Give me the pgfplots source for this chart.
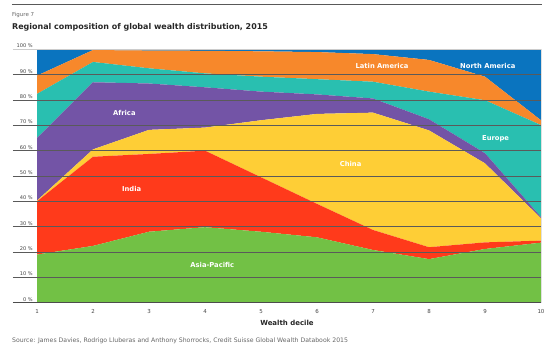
\documentclass[border=0pt]{standalone}
\usepackage{pgfplots}
\pgfplotsset{compat=1.18}
\usepackage{fontspec}
\setmainfont{DejaVu Sans}
\definecolor{cNA}{RGB}{10,116,191}
\definecolor{cLA}{RGB}{247,136,43}
\definecolor{cEU}{RGB}{41,191,176}
\definecolor{cAF}{RGB}{115,84,166}
\definecolor{cCN}{RGB}{254,206,54}
\definecolor{cIN}{RGB}{255,58,27}
\definecolor{cAP}{RGB}{114,193,69}
\definecolor{txt}{RGB}{70,70,70}
\definecolor{gridc}{RGB}{90,90,90}
\pgfplotsset{base/.style={
  at={(0,0)}, anchor=south west,
  scale only axis, width=504bp, height=253.4bp,
  xmin=1, xmax=10, ymin=0, ymax=100, clip=false}}
\begin{document}
\begin{tikzpicture}
\useasboundingbox (-37bp,-49.3bp) rectangle (518bp,302.7bp);
\begin{axis}[base,
  stack plots=y,
  axis line style={draw=none},
  major tick length=0pt,
  xtick={1,...,10},
  ytick={0,10,...,100},
  yticklabels={0 \%,10 \%,20 \%,30 \%,40 \%,50 \%,60 \%,70 \%,80 \%,90 \%,100 \%},
  yticklabel style={anchor=south east, inner sep=0pt, xshift=-4bp, yshift=1.2bp, font=\fontsize{5.1}{6}\selectfont, text=txt},
  xticklabel style={font=\fontsize{5.5}{6}\selectfont, text=txt, yshift=-3bp},
  /pgf/number format/assume math mode=true,
]
\addplot[fill=cAP, draw=none] coordinates {(1,19) (2,22.4) (3,28) (4,29.8) (5,28) (6,25.8) (7,20.8) (8,17.2) (9,21.2) (10,23.7)} \closedcycle;
\addplot[fill=cIN, draw=none] coordinates {(1,21) (2,35.2) (3,30.7) (4,30.2) (5,21.5) (6,13.2) (7,7.9) (8,4.7) (9,2.6) (10,0.8)} \closedcycle;
\addplot[fill=cCN, draw=none] coordinates {(1,0.3) (2,2.9) (3,9.5) (4,9.1) (5,22.5) (6,35.5) (7,46.3) (8,46.1) (9,31.2) (10,8.8)} \closedcycle;
\addplot[fill=cAF, draw=none] coordinates {(1,24.7) (2,26.5) (3,18.3) (4,15.9) (5,11.3) (6,7.7) (7,5.6) (8,4.4) (9,4.0) (10,0.5)} \closedcycle;
\addplot[fill=cEU, draw=none] coordinates {(1,17.4) (2,8.0) (3,6.0) (4,5.5) (5,5.9) (6,6.0) (7,6.6) (8,10.9) (9,20.9) (10,36.3)} \closedcycle;
\addplot[fill=cLA, draw=none] coordinates {(1,7.2) (2,4.7) (3,7.0) (4,8.9) (5,10.0) (6,10.7) (7,10.9) (8,12.5) (9,9.3) (10,1.9)} \closedcycle;
\addplot[fill=cNA, draw=none] coordinates {(1,10.4) (2,0.3) (3,0.5) (4,0.6) (5,0.8) (6,1.1) (7,1.9) (8,4.2) (9,10.8) (10,28)} \closedcycle;
\end{axis}
\begin{axis}[base, hide axis]
\draw[gridc, line width=0.7bp] ([xshift=-24bp]axis cs:1,10) -- (axis cs:10,10);
\draw[gridc, line width=0.7bp] ([xshift=-24bp]axis cs:1,20) -- (axis cs:10,20);
\draw[gridc, line width=0.7bp] ([xshift=-24bp]axis cs:1,30) -- (axis cs:10,30);
\draw[gridc, line width=0.7bp] ([xshift=-24bp]axis cs:1,40) -- (axis cs:10,40);
\draw[gridc, line width=0.7bp] ([xshift=-24bp]axis cs:1,50) -- (axis cs:10,50);
\draw[gridc, line width=0.7bp] ([xshift=-24bp]axis cs:1,60) -- (axis cs:10,60);
\draw[gridc, line width=0.7bp] ([xshift=-24bp]axis cs:1,70) -- (axis cs:10,70);
\draw[gridc, line width=0.7bp] ([xshift=-24bp]axis cs:1,80) -- (axis cs:10,80);
\draw[gridc, line width=0.7bp] ([xshift=-24bp]axis cs:1,90) -- (axis cs:10,90);
\draw[black!20, line width=0.8bp] ([xshift=-24bp]axis cs:1,100) -- (axis cs:10,100);
\draw[black!12, line width=0.6bp] (axis cs:10,0) -- (axis cs:10,100);
\draw[black!70, line width=1.4bp] ([xshift=-24bp]axis cs:1,0) -- (axis cs:10,0);
\node[text=white, font=\bfseries\fontsize{6.8}{7}\selectfont] at (axis cs:7.16,93.4) {Latin America};
\node[text=white, font=\bfseries\fontsize{6.8}{7}\selectfont] at (axis cs:9.05,93.4) {North America};
\node[text=white, font=\bfseries\fontsize{6.8}{7}\selectfont] at (axis cs:2.56,74.9) {Africa};
\node[text=white, font=\bfseries\fontsize{6.8}{7}\selectfont] at (axis cs:9.19,64.6) {Europe};
\node[text=white, font=\bfseries\fontsize{6.8}{7}\selectfont] at (axis cs:6.60,54.7) {China};
\node[text=white, font=\bfseries\fontsize{6.8}{7}\selectfont] at (axis cs:2.69,44.9) {India};
\node[text=white, font=\bfseries\fontsize{6.8}{7}\selectfont] at (axis cs:4.13,14.9) {Asia-Pacific};
\end{axis}
\draw[black!65, line width=1.2bp] (-25bp,298.2bp) -- (505bp,298.2bp);
\node[anchor=west, inner sep=0pt, text=black!60, font=\fontsize{5.5}{6}\selectfont] at (-25bp,287.7bp) {Figure 7};
\node[anchor=west, inner sep=0pt, text=black!85, font=\bfseries\fontsize{8}{10}\selectfont] at (-25bp,275.7bp) {Regional composition of global wealth distribution, 2015};
\node[inner sep=0pt, text=black!85, font=\bfseries\fontsize{7}{8}\selectfont] at (250bp,-20.3bp) {Wealth decile};
\node[anchor=west, inner sep=0pt, text=black!60, font=\fontsize{6.2}{7}\selectfont] at (-25bp,-38.3bp) {Source: James Davies, Rodrigo Lluberas and Anthony Shorrocks, Credit Suisse Global Wealth Databook 2015};
\end{tikzpicture}
\end{document}
